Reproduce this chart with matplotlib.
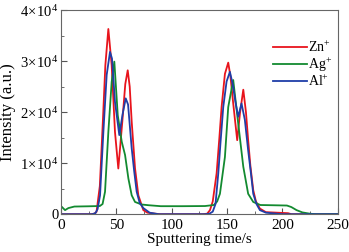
import matplotlib
matplotlib.use("Agg")
import matplotlib.pyplot as plt
from matplotlib.ticker import MultipleLocator, FixedLocator, FixedFormatter

plt.rcParams['font.family'] = 'Liberation Serif'
plt.rcParams['mathtext.fontset'] = 'custom'
plt.rcParams['mathtext.rm'] = 'Liberation Serif'
plt.rcParams['mathtext.it'] = 'Liberation Serif'

# time (s), intensity (counts) read from the depth profile
zn_t = [0, 27, 30, 32, 35, 38, 40, 42.7, 45.7, 48.7, 51.7, 55.3, 58, 60.2, 62, 63.8, 66.8, 69.8, 74.3, 78, 85, 90,
        128, 132, 134.5, 137, 140.5, 143, 145, 148, 151, 153, 155.5, 159.1, 161.6, 164.6, 167, 169, 171, 173.6, 176, 179.6, 185, 205, 208, 250]
zn_v = [0, 0, 100, 450, 5500, 19400, 29200, 36300, 29200, 16100, 8950, 18100, 25500, 28200, 25000, 18100, 9000, 3700, 800, 300, 100, 0,
        0, 100, 800, 2500, 8000, 15000, 21000, 27500, 29700, 27000, 21700, 14500, 19800, 24400, 20000, 14500, 9500, 4700, 2500, 1100, 400, 200, 0, 0]

al_t = [0, 28, 31, 33, 35.2, 38.2, 41.2, 44.2, 46, 48.7, 52.6, 55.5, 58.4, 60.5, 63.8, 66, 68.3, 71, 74.3, 80, 88,
        130, 134, 137, 139.5, 142, 144, 146.5, 149.5, 152.5, 155, 157.5, 160, 163, 166, 169, 171.5, 173.6, 176.5, 179.6, 185, 195, 200, 250]
al_v = [0, 0, 200, 1000, 3700, 16100, 27300, 31800, 30500, 22000, 15500, 19500, 22700, 21500, 12900, 8500, 4400, 2200, 1200, 300, 0,
        0, 100, 500, 2000, 8000, 14000, 21000, 26000, 27900, 25500, 22000, 19100, 21700, 18500, 12500, 8000, 4000, 2000, 800, 300, 100, 0, 0]

ag_t = [0, 0.6, 3.6, 6.6, 12, 25, 35, 37.5, 39.7, 42.7, 45.7, 48.1, 51.2, 54.8, 57.8, 60.8, 63.8, 66.8, 72.8, 79, 90, 110, 130,
        138, 141, 143.5, 148, 151, 155.5, 160, 164.6, 169, 173.6, 180, 190, 204, 208, 212.7, 218, 224.7, 230, 250]
ag_v = [1500, 1450, 800, 1200, 1500, 1550, 1600, 2000, 4400, 16100, 25900, 29900, 19400, 14200, 11600, 7000, 3700, 2400, 1900, 1760, 1570, 1570, 1600,
        1800, 2500, 4000, 11200, 21000, 26300, 17800, 9300, 4000, 2400, 1800, 1760, 1700, 1400, 800, 350, 100, 0, 0]

y_ticks = [0, 10000, 20000, 30000, 40000]
y_labels = ["0", r"$1\!\times\!10^4$", r"$2\!\times\!10^4$", r"$3\!\times\!10^4$", r"$4\!\times\!10^4$"]

series = [("Zn$^{+}$", zn_t, zn_v, "#e8141c"),
          ("Ag$^{+}$", ag_t, ag_v, "#138a30"),
          ("Al$^{+}$", al_t, al_v, "#1f3ea8")]

fig = plt.figure(figsize=(3.49, 2.52), dpi=100)
ax = fig.add_axes([0.175, 0.15, 0.793, 0.81])

for label, t, v, c in series:
    ax.plot(t, v, color=c, lw=1.3, label=label)

ax.set_xlim(0, 250)
ax.set_ylim(0, 40000)
ax.xaxis.set_major_locator(MultipleLocator(50))
ax.xaxis.set_minor_locator(MultipleLocator(25))
ax.yaxis.set_major_locator(FixedLocator(y_ticks))
ax.yaxis.set_major_formatter(FixedFormatter(y_labels))
ax.yaxis.set_minor_locator(MultipleLocator(5000))
ax.tick_params(which='both', direction='in', colors='#555555', labelcolor='black')
ax.tick_params(axis='x', labelsize=11)
ax.tick_params(axis='y', labelsize=10.5, pad=2)
ax.tick_params(which='major', length=4)
ax.tick_params(which='minor', length=2)
for s in ax.spines.values():
    s.set_color('#666666')

ax.set_xlabel("Sputtering time/s", fontsize=11, labelpad=1)
ax.set_ylabel("Intensity (a.u.)", fontsize=12, labelpad=3)

leg = ax.legend(loc='upper right', bbox_to_anchor=(1.0, 0.88), frameon=False, fontsize=10,
                handlelength=2.4, handletextpad=0.1, labelspacing=0.0, borderpad=0.2,
                borderaxespad=0.2)

fig.savefig("out.png", dpi=100)
